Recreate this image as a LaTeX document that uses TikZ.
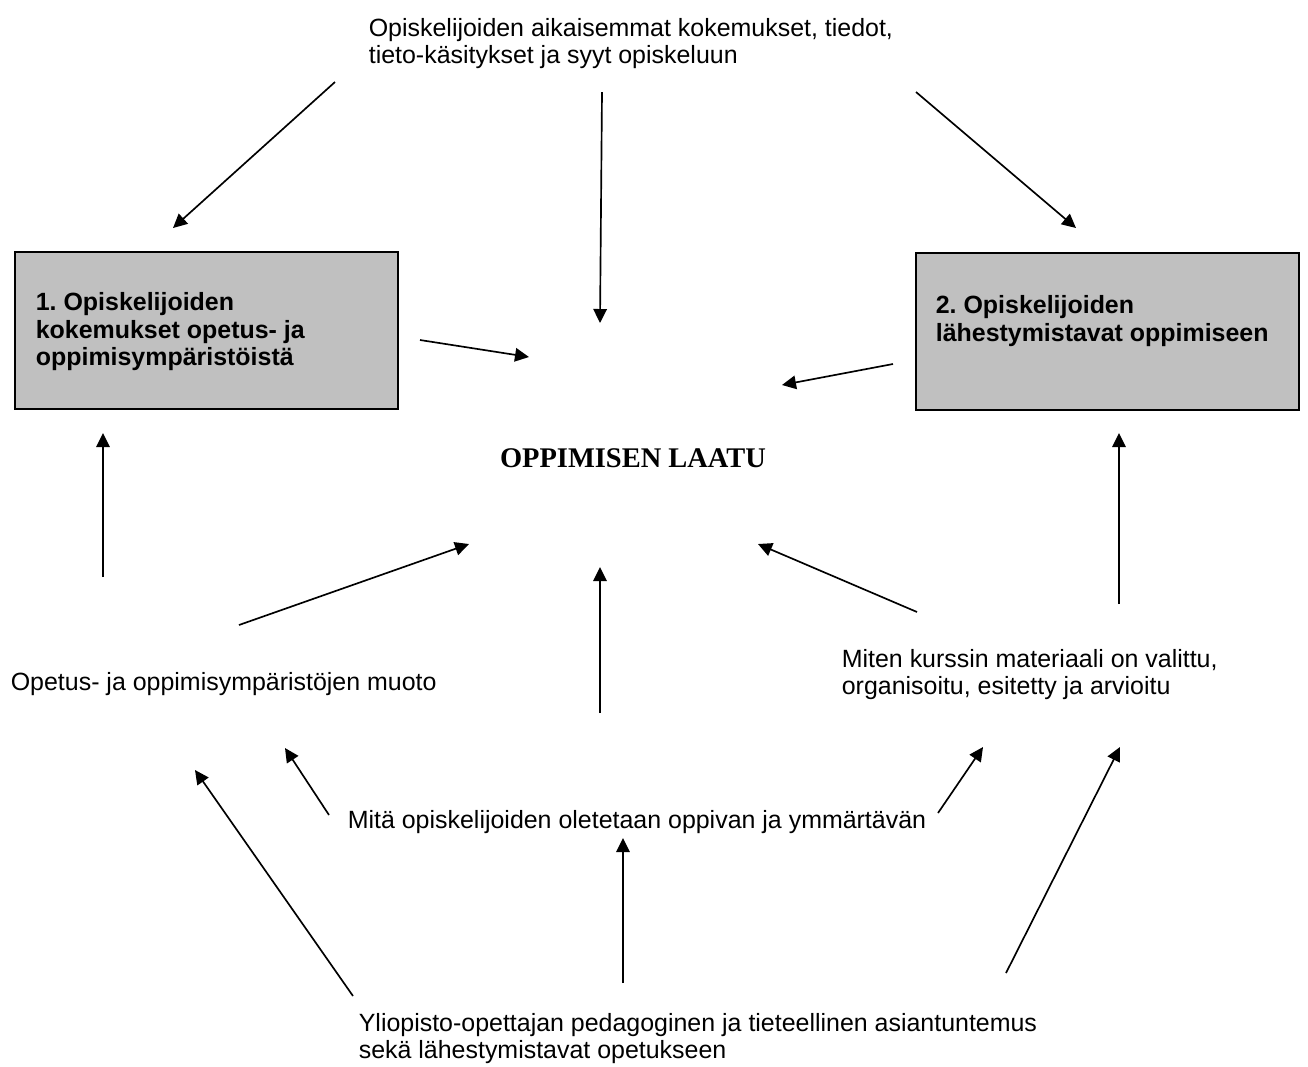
\documentclass[tikz,border=0pt]{standalone}
\usepackage{fontspec}
\setmainfont{Liberation Sans}
\newfontfamily\titlefont{Liberation Serif}
\usetikzlibrary{arrows.meta}
\definecolor{boxGray}{RGB}{192,192,192}
\frenchspacing

\begin{document}
\begin{tikzpicture}[x=0.02cm,y=-0.02cm,>={Triangle[length=0.28cm,width=0.27cm]},
  line width=0.95pt,
  plain text/.style={inner sep=0pt,align=left,font=\fontsize{14.2}{15.2}\selectfont},
  box text/.style={inner sep=0pt,align=left,anchor=north west,font=\fontsize{14.2}{15.5}\selectfont\bfseries},
  gray box/.style={rectangle,draw,fill=boxGray,anchor=north west,inner sep=0pt,minimum width=7.66cm,minimum height=3.14cm},
  title text/.style={inner sep=0pt,font=\titlefont\fontsize{16.2}{19}\selectfont\bfseries}]

\useasboundingbox (0,0) rectangle (1308,1066);

% The two boxes
\node[gray box] (exper) at (14,251) {};
\node[gray box] (appr) at (915,252) {};
\node[box text] (experText) at ([shift={(21,41)}]exper.north west) {1. Opiskelijoiden\\kokemukset opetus- ja\\oppimisympäristöistä};
\node[box text] (apprText) at ([shift={(20,43)}]appr.north west) {2. Opiskelijoiden\\lähestymistavat oppimiseen};

% The texts
\node[plain text,anchor=north west] (prior) at (368,18) {Opiskelijoiden aikaisemmat kokemukset, tiedot,\\tieto-käsitykset ja syyt opiskeluun};
\node[title text,anchor=base] (quality) at (633,467) {OPPIMISEN LAATU};
\node[plain text,anchor=base west] (form) at (10,690) {Opetus- ja oppimisympäristöjen muoto};
\node[plain text,anchor=north west] (material) at (841,649) {Miten kurssin materiaali on valittu,\\organisoitu, esitetty ja arvioitu};
\node[plain text,anchor=base west] (goals) at (347,828) {Mitä opiskelijoiden oletetaan oppivan ja ymmärtävän};
\node[plain text,anchor=north west] (expertise) at (358,1013) {Yliopisto-opettajan pedagoginen ja tieteellinen asiantuntemus\\sekä lähestymistavat opetukseen};

% Arrow ends
\coordinate (priorL) at (335,82);    \coordinate (experTop) at (173,228);
\coordinate (priorM) at (602,92);    \coordinate (qualTop) at (600,323);
\coordinate (priorR) at (916,92);    \coordinate (apprTop) at (1076,228);
\coordinate (experR) at (420,340);   \coordinate (qualL) at (529,357);
\coordinate (apprL) at (893,364);    \coordinate (qualR) at (782,385);
\coordinate (formUp) at (103,577);   \coordinate (experBot) at (103,433);
\coordinate (formR) at (239,625);    \coordinate (qualBL) at (469,544);
\coordinate (goalsUp) at (600,713);  \coordinate (qualBot) at (600,567);
\coordinate (matL) at (917,612);     \coordinate (qualBR) at (758,544);
\coordinate (matUp) at (1119,604);   \coordinate (apprBot) at (1119,433);
\coordinate (goalsL) at (329,815);   \coordinate (formBR) at (285,748);
\coordinate (expL) at (353,996);     \coordinate (formBot) at (195,770);
\coordinate (expM) at (623,983);     \coordinate (goalsBot) at (623,838);
\coordinate (goalsR) at (938,813);   \coordinate (matBL) at (983,747);
\coordinate (expR) at (1006,973);    \coordinate (matBR) at (1120,747);

% The arrows
\path[->]
 (priorL) edge (experTop)
 (priorM) edge (qualTop)
 (priorR) edge (apprTop)
 (experR) edge (qualL)
 (apprL) edge (qualR)
 (formUp) edge (experBot)
 (formR) edge (qualBL)
 (goalsUp) edge (qualBot)
 (matL) edge (qualBR)
 (matUp) edge (apprBot)
 (goalsL) edge (formBR)
 (expL) edge (formBot)
 (expM) edge (goalsBot)
 (goalsR) edge (matBL)
 (expR) edge (matBR);

\end{tikzpicture}
\end{document}
